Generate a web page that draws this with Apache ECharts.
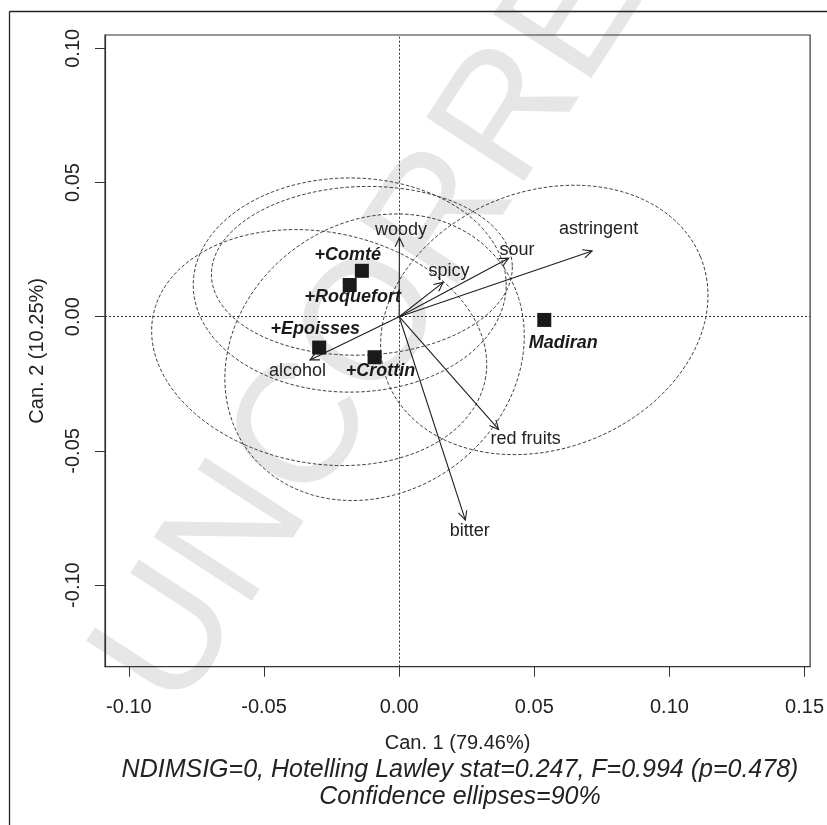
<!DOCTYPE html>
<html>
<head>
<meta charset="utf-8">
<script src="https://cdn.jsdelivr.net/npm/echarts@6/dist/echarts.min.js"></script>
<style>
  html, body { margin: 0; padding: 0; background: #ffffff; }
  #chart { width: 827px; height: 825px; }
</style>
</head>
<body>
<div id="chart"></div>
<script>
// Product means on the first two canonical axes
const products = ['+Comté', '+Roquefort', '+Epoisses', '+Crottin', 'Madiran'];
const productCan1 = [-0.0138, -0.0183, -0.0296, -0.0091, 0.0537];
const productCan2 = [0.0171, 0.0118, -0.0115, -0.0151, -0.0012];

// 90% confidence ellipses around each product: semi-axes and tilt (degrees)
const ellipseSemiMajor = [0.0557, 0.0579, 0.0626, 0.0584, 0.0624];
const ellipseSemiMinor = [0.0314, 0.0399, 0.0431, 0.0501, 0.0479];
const ellipseTilt = [2, 0, -11, 38, 22];

// Sensory descriptors projected into the canonical space
const descriptors = ['woody', 'spicy', 'sour', 'astringent', 'alcohol', 'red fruits', 'bitter'];
const descCan1 = [0.0001, 0.0163, 0.0405, 0.0714, -0.0330, 0.0368, 0.0245];
const descCan2 = [0.0294, 0.0128, 0.0218, 0.0245, -0.0161, -0.0420, -0.0758];

// Axis ticks
const xTicks = [-0.10, -0.05, 0.00, 0.05, 0.10, 0.15];
const yTicks = [-0.10, -0.05, 0.00, 0.05, 0.10];

const xTitle = 'Can. 1 (79.46%)';
const yTitle = 'Can. 2 (10.25%)';
const subtitle = [
  'NDIMSIG=0, Hotelling Lawley stat=0.247, F=0.994 (p=0.478)',
  'Confidence ellipses=90%'
];

// Label placement (pixel offsets from the mark)
const productLabelOffset = [[-14, -16], [3, 12], [-4, -19], [6, 14], [19, 23]];
const descLabelOffset = [[1.5, -8], [5.7, -11.3], [8.3, -8.3], [6.5, -22], [-12.5, 11], [27, 10], [4.4, 11]];

const FONT = "'Liberation Sans', Arial, Helvetica, sans-serif";
const INK = '#222222';

const chart = echarts.init(document.getElementById('chart'), null, { renderer: 'canvas' });

const fmt = v => (Math.abs(v) < 1e-9 ? 0 : v).toFixed(2);

const ellipseData = products.map((p, i) => [
  productCan1[i], productCan2[i], ellipseSemiMajor[i], ellipseSemiMinor[i], ellipseTilt[i]
]);

const productData = products.map((p, i) => ({
  name: p,
  value: [productCan1[i], productCan2[i]],
  label: { offset: productLabelOffset[i] }
}));

const descData = descriptors.map((d, i) => ({ name: d, value: [descCan1[i], descCan2[i]] }));

const axisLineStyle = { color: '#333333', width: 1.2 };

chart.setOption({
  animation: false,
  backgroundColor: '#ffffff',
  grid: {
    left: 105, top: 35, right: 11.3, bottom: 158.3,
    show: true, borderColor: '#333333', borderWidth: 1.2, backgroundColor: 'transparent'
  },
  xAxis: {
    type: 'value',
    position: 'bottom',
    min: -0.10885, max: 0.15206,
    name: xTitle, nameLocation: 'middle', nameGap: 67,
    nameTextStyle: { fontFamily: FONT, fontSize: 20, color: INK },
    axisLine: { show: true, onZero: false, lineStyle: axisLineStyle },
    splitLine: { show: false },
    axisTick: { show: true, customValues: xTicks, length: 10, inside: false, lineStyle: { color: '#333', width: 1 } },
    axisLabel: { customValues: xTicks, formatter: fmt, margin: 31, fontFamily: FONT, fontSize: 20, color: INK }
  },
  yAxis: {
    type: 'value',
    position: 'left',
    min: -0.13040, max: 0.10496,
    name: yTitle, nameLocation: 'middle', nameGap: 58,
    nameTextStyle: { fontFamily: FONT, fontSize: 20, color: INK },
    axisLine: { show: true, onZero: false, lineStyle: axisLineStyle },
    splitLine: { show: false },
    axisTick: { show: true, customValues: yTicks, length: 10, inside: false, lineStyle: { color: '#333', width: 1 } },
    axisLabel: { customValues: yTicks, formatter: fmt, rotate: 90, margin: 22, fontFamily: FONT, fontSize: 20, color: INK }
  },
  graphic: [
    {
      type: 'text', z: -5, x: 138, y: 690, rotation: 57 * Math.PI / 180,
      style: { text: 'UNCORRECTED PROOF', fontFamily: FONT, fontSize: 170, fill: '#e6e6e7', textVerticalAlign: 'middle', textAlign: 'left' }
    },
    { type: 'line', shape: { x1: 9.5, y1: 11.5, x2: 827, y2: 11.5 }, style: { stroke: '#222', lineWidth: 1.3 } },
    { type: 'line', shape: { x1: 9.5, y1: 11.5, x2: 9.5, y2: 825 }, style: { stroke: '#222', lineWidth: 1.3 } },
    {
      type: 'text', x: 460, y: 770,
      style: { text: subtitle[0], fontFamily: FONT, fontSize: 25, fontStyle: 'italic', fill: INK, textAlign: 'center', textVerticalAlign: 'middle' }
    },
    {
      type: 'text', x: 460, y: 797,
      style: { text: subtitle[1], fontFamily: FONT, fontSize: 25, fontStyle: 'italic', fill: INK, textAlign: 'center', textVerticalAlign: 'middle' }
    }
  ],
  series: [
    {
      // Dashed confidence ellipses
      type: 'custom',
      data: ellipseData,
      z: 3,
      silent: true,
      renderItem: (params, api) => {
        const cx = api.value(0), cy = api.value(1), a = api.value(2), b = api.value(3);
        const th = api.value(4) * Math.PI / 180;
        const pts = [];
        const n = 160;
        for (let k = 0; k <= n; k++) {
          const t = 2 * Math.PI * k / n;
          const dx = a * Math.cos(t) * Math.cos(th) - b * Math.sin(t) * Math.sin(th);
          const dy = a * Math.cos(t) * Math.sin(th) + b * Math.sin(t) * Math.cos(th);
          pts.push(api.coord([cx + dx, cy + dy]));
        }
        return {
          type: 'polyline',
          shape: { points: pts },
          style: { stroke: '#2a2a2a', lineWidth: 0.9, lineDash: [3.5, 2], fill: null }
        };
      }
    },
    {
      // Descriptor arrows from the origin
      type: 'custom',
      data: descData,
      z: 4,
      silent: true,
      renderItem: (params, api) => {
        const o = api.coord([0, 0]);
        const p = api.coord([api.value(0), api.value(1)]);
        const ang = Math.atan2(p[1] - o[1], p[0] - o[0]);
        const L = 10, h = Math.PI / 7;
        const h1 = [p[0] - L * Math.cos(ang - h), p[1] - L * Math.sin(ang - h)];
        const h2 = [p[0] - L * Math.cos(ang + h), p[1] - L * Math.sin(ang + h)];
        const off = descLabelOffset[params.dataIndex];
        return {
          type: 'group',
          children: [
            { type: 'line', shape: { x1: o[0], y1: o[1], x2: p[0], y2: p[1] }, style: { stroke: '#1e1e1e', lineWidth: 1.1 } },
            { type: 'polyline', shape: { points: [h1, p, h2] }, style: { stroke: '#1e1e1e', lineWidth: 1.1, fill: null } },
            {
              type: 'text', x: p[0] + off[0], y: p[1] + off[1],
              style: { text: descriptors[params.dataIndex], fontFamily: FONT, fontSize: 18, fill: INK, textAlign: 'center', textVerticalAlign: 'middle' }
            }
          ]
        };
      }
    },
    {
      // Product means
      type: 'scatter',
      data: productData,
      z: 5,
      symbol: 'rect',
      symbolSize: 14,
      itemStyle: { color: '#1a1a1a', opacity: 1 },
      label: {
        show: true, position: 'inside', formatter: '{b}',
        fontFamily: FONT, fontSize: 18, fontStyle: 'italic', fontWeight: 'bold', color: '#1a1a1a', opacity: 1,
        align: 'center', verticalAlign: 'middle'
      },
      markLine: {
        silent: true,
        symbol: ['none', 'none'],
        label: { show: false },
        lineStyle: { color: '#333', width: 1, type: [2, 2] },
        data: [{ xAxis: 0 }, { yAxis: 0 }]
      }
    }
  ]
});
</script>
</body>
</html>
